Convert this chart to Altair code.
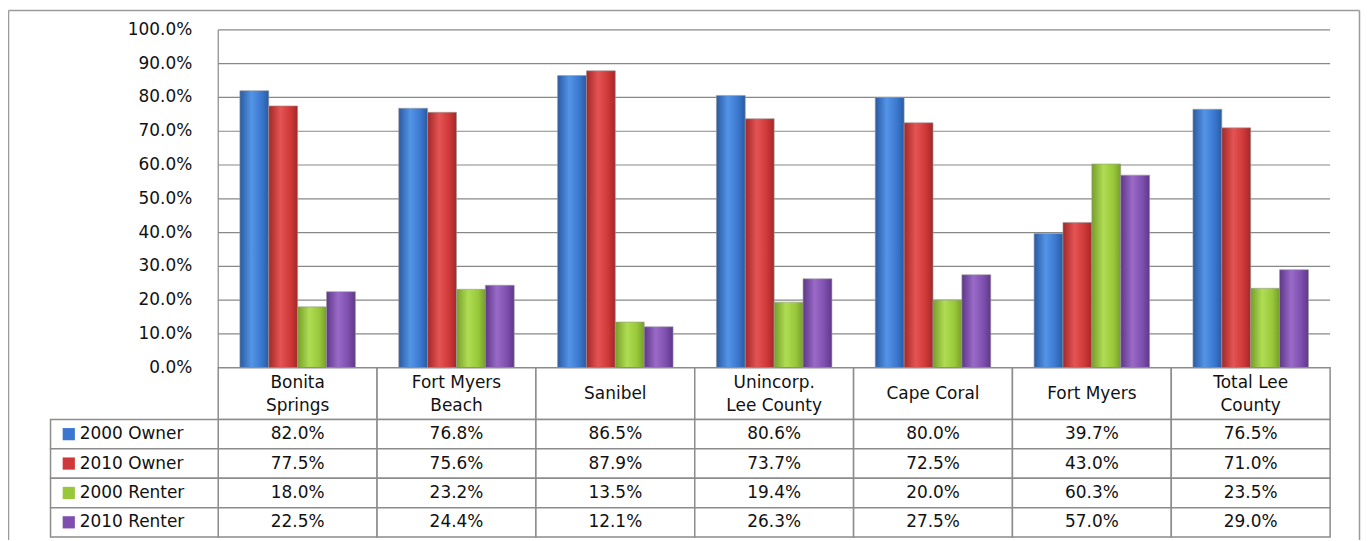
import altair as alt
import pandas as pd

categories = ["Bonita Springs", "Fort Myers Beach", "Sanibel", "Unincorp. Lee County",
              "Cape Coral", "Fort Myers", "Total Lee County"]
header_labels = ["Bonita\nSprings", "Fort Myers\nBeach", "Sanibel", "Unincorp.\nLee County",
                 "Cape Coral", "Fort Myers", "Total Lee\nCounty"]
series = ["2000 Owner", "2010 Owner", "2000 Renter", "2010 Renter"]
owner_2000 = [0.820, 0.768, 0.865, 0.806, 0.800, 0.397, 0.765]
owner_2010 = [0.775, 0.756, 0.879, 0.737, 0.725, 0.430, 0.710]
renter_2000 = [0.180, 0.232, 0.135, 0.194, 0.200, 0.603, 0.235]
renter_2010 = [0.225, 0.244, 0.121, 0.263, 0.275, 0.570, 0.290]
y_ticks = [0.0, 0.1, 0.2, 0.3, 0.4, 0.5, 0.6, 0.7, 0.8, 0.9, 1.0]

colors = ["#3a78cf", "#cf3838", "#98c83a", "#7e4fae"]
dark = ["#2a5aa2", "#a32828", "#769e2a", "#5e3888"]
light = ["#5494e6", "#e45454", "#b0dc54", "#9a6ac8"]

rows = []
for s, vals in zip(series, [owner_2000, owner_2010, renter_2000, renter_2010]):
    for c, v in zip(categories, vals):
        rows.append({"series": s, "category": c, "value": v})
df = pd.DataFrame(rows)
cat_df = pd.DataFrame({"category": categories, "label": header_labels,
                       "two": ["\n" in h for h in header_labels]})
tick_df = pd.DataFrame({"tick": y_ticks})
series_df = pd.DataFrame({"series": series})
one = pd.DataFrame({"a": [0]})

FONT = "DejaVu Sans"
FS = 17
GRID = "#888888"
BORDER = "#8c8c8c"
TXT = "#111111"

x_scale = alt.Scale(domain=categories, range=[211, 1327], paddingInner=0, paddingOuter=0)
y_scale = alt.Scale(domain=[0, 1], range=[360, 21])
off_scale = alt.Scale(domain=series, paddingInner=0, paddingOuter=0.75)
row_scale = alt.Scale(domain=series, range=[412, 530], paddingInner=0, paddingOuter=0)

X = alt.X("category:N", scale=x_scale, axis=None)
ROW = alt.Y("series:N", scale=row_scale, axis=None)

layers = []

# outer border (top, left, right)
for enc in [dict(x=alt.value(0.5), x2=alt.value(1356.5), y=alt.value(1.5)),
            dict(x=alt.value(0.5), y=alt.value(1.5), y2=alt.value(533)),
            dict(x=alt.value(1356.5), y=alt.value(1.5), y2=alt.value(533))]:
    layers.append(alt.Chart(one).mark_rule(color="#9a9a9a", strokeWidth=1.5).encode(**enc))

# gridlines
layers.append(alt.Chart(tick_df).mark_rule(color=GRID, strokeWidth=1.2).encode(
    y=alt.Y("tick:Q", scale=y_scale, axis=None), x=alt.value(211), x2=alt.value(1327)))
# axis line
layers.append(alt.Chart(one).mark_rule(color=GRID, strokeWidth=1.2).encode(
    x=alt.value(211), y=alt.value(21), y2=alt.value(360)))
# tick labels
layers.append(alt.Chart(tick_df).mark_text(align="right", baseline="middle", font=FONT,
                                           fontSize=FS, color=TXT).encode(
    y=alt.Y("tick:Q", scale=y_scale, axis=None), x=alt.value(185),
    text=alt.Text("tick:Q", format=".1%")))

# bars
for i, s in enumerate(series):
    grad = alt.LinearGradient(gradient="linear", x1=0, x2=1, y1=0, y2=0,
                              stops=[alt.GradientStop(offset=0, color=dark[i]),
                                     alt.GradientStop(offset=0.4, color=light[i]),
                                     alt.GradientStop(offset=0.75, color=colors[i]),
                                     alt.GradientStop(offset=1, color=dark[i])])
    layers.append(alt.Chart(df).transform_filter(alt.datum.series == s).mark_bar(
        color=grad, stroke="#9a9a9a", strokeWidth=0.6).encode(
        x=X,
        xOffset=alt.XOffset("series:N", scale=off_scale),
        y=alt.Y("value:Q", scale=y_scale, axis=None)))

# header row
layers.append(alt.Chart(cat_df).mark_rect(fill="white", stroke=BORDER, strokeWidth=1.5).encode(
    x=X, y=alt.value(360), y2=alt.value(412)))
layers.append(alt.Chart(cat_df).transform_filter("datum.two").mark_text(
    lineBreak="\n", lineHeight=24, baseline="middle", font=FONT, fontSize=FS, color=TXT).encode(
    x=X, y=alt.value(375), text="label:N"))
layers.append(alt.Chart(cat_df).transform_filter("!datum.two").mark_text(
    baseline="middle", font=FONT, fontSize=FS, color=TXT).encode(
    x=X, y=alt.value(386), text="label:N"))

# data cells
layers.append(alt.Chart(df).mark_rect(fill="white", stroke=BORDER, strokeWidth=1.5).encode(
    x=X, y=ROW))
layers.append(alt.Chart(df).mark_text(baseline="middle", font=FONT, fontSize=FS,
                                      color=TXT).encode(
    x=X, y=ROW, text=alt.Text("value:Q", format=".1%")))

# legend column
layers.append(alt.Chart(series_df).mark_rect(fill="white", stroke=BORDER, strokeWidth=1.5).encode(
    x=alt.value(42.7), x2=alt.value(211), y=ROW))
layers.append(alt.Chart(series_df).mark_square(size=150, opacity=1).encode(
    x=alt.value(61), y=ROW,
    color=alt.Color("series:N", scale=alt.Scale(domain=series, range=colors), legend=None)))
layers.append(alt.Chart(series_df).mark_text(align="left", baseline="middle", font=FONT,
                                             fontSize=FS, color=TXT).encode(
    x=alt.value(72), y=ROW, text="series:N"))

chart = alt.layer(*layers).resolve_scale(y="independent").properties(
    width=1358, height=533, autosize=alt.AutoSizeParams(type="none"), padding=0
).configure_view(stroke=None)

chart.save("out.html", embed_options={"renderer": "svg", "actions": False})
